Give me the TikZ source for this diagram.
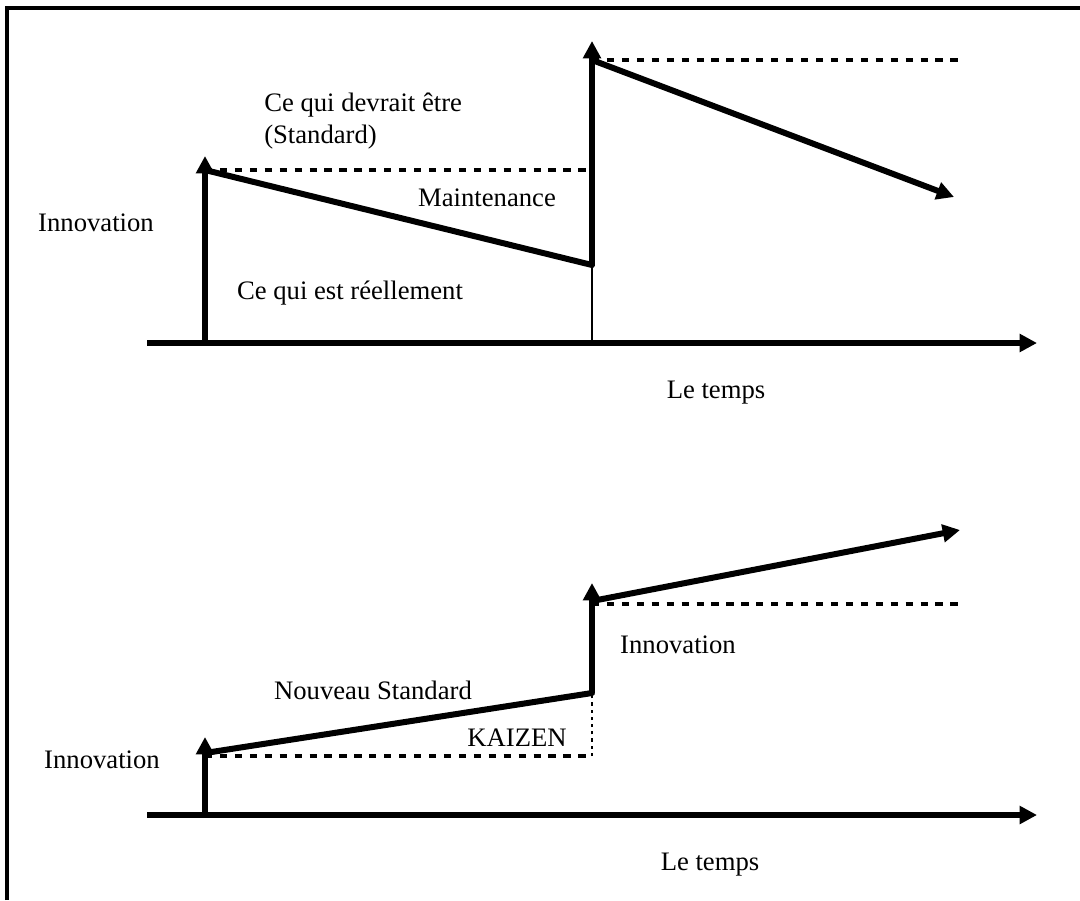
\documentclass[tikz,border=0pt]{standalone}
\usepackage{fontspec}
\setmainfont{Liberation Serif}
\usetikzlibrary{arrows.meta}
\begin{document}
\begin{tikzpicture}[x=0.75pt,y=-0.75pt,
  thick line/.style={line width=4.5pt},
  thin line/.style={line width=1.2pt},
  ar/.style={-{Triangle[length=13pt,width=13pt]}},
  dashline/.style={line width=2.4pt,dash pattern=on 5.4pt off 5.8pt},
  dotline/.style={line width=1.8pt,dash pattern=on 2.4pt off 3pt},
  lbl/.style={font=\fontsize{20}{24}\selectfont,inner sep=0pt}]
\useasboundingbox (0,0) rectangle (1080,900);
\draw[line width=2.6pt] (7,900) -- (7,8) -- (1080,8);
% ---- top diagram
\coordinate (a0) at (147,343);
\coordinate (a1) at (1037,343);
\coordinate (p0) at (205,343);
\coordinate (p1) at (205,170);
\coordinate (p1t) at (205,156);
\coordinate (p2) at (592,265);
\coordinate (p2b) at (592,343);
\coordinate (p3) at (592,60);
\coordinate (p3t) at (592,41);
\coordinate (p4) at (954,197);
\coordinate (d1) at (592,170);
\coordinate (d2) at (962,60);
\draw[thick line,ar] (a0) -- (a1);
\draw[thick line,ar] (p0) -- (p1t);
\draw[thick line,line cap=round] (p1) -- (p2);
\draw[thin line] (p2) -- (p2b);
\draw[thick line,ar] (p2) -- (p3t);
\draw[thick line,ar] (p3) -- (p4);
\draw[dashline] (p1) -- (d1);
\draw[dashline] (p3) -- (d2);
\node[lbl,anchor=west,align=left] (std) at (264,121) {Ce qui devrait être\\(Standard)};
\node[lbl] (maint) at (487,198) {Maintenance};
\node[lbl] (reel) at (350,293) {Ce qui est réellement};
\node[lbl] (inno1) at (96,223) {Innovation};
\node[lbl] (temps1) at (716,393) {Le temps};
% ---- bottom diagram
\coordinate (b0) at (147,815);
\coordinate (b1) at (1037,815);
\coordinate (q0) at (205,815);
\coordinate (q1) at (205,753);
\coordinate (q1t) at (205,737);
\coordinate (q2) at (592,693);
\coordinate (q3) at (592,601);
\coordinate (q3t) at (592,583);
\coordinate (q4) at (960,530);
\coordinate (e1) at (205,756);
\coordinate (e2) at (592,756);
\coordinate (e3) at (592,604);
\coordinate (e4) at (962,604);
\draw[thick line,ar] (b0) -- (b1);
\draw[thick line,ar] (q0) -- (q1t);
\draw[thick line,line cap=round] (q1) -- (q2);
\draw[thick line,ar] (q2) -- (q3t);
\draw[thick line,ar] (q3) -- (q4);
\draw[dashline] (e1) -- (e2);
\draw[dotline] (e2) -- (q2);
\draw[dashline] (e3) -- (e4);
\node[lbl] (inno2) at (102,760) {Innovation};
\node[lbl] (nstd) at (373,690) {Nouveau Standard};
\node[lbl] (kaizen) at (517,738) {KAIZEN};
\node[lbl] (inno3) at (678,645) {Innovation};
\node[lbl] (temps2) at (710,865) {Le temps};
\end{tikzpicture}
\end{document}
